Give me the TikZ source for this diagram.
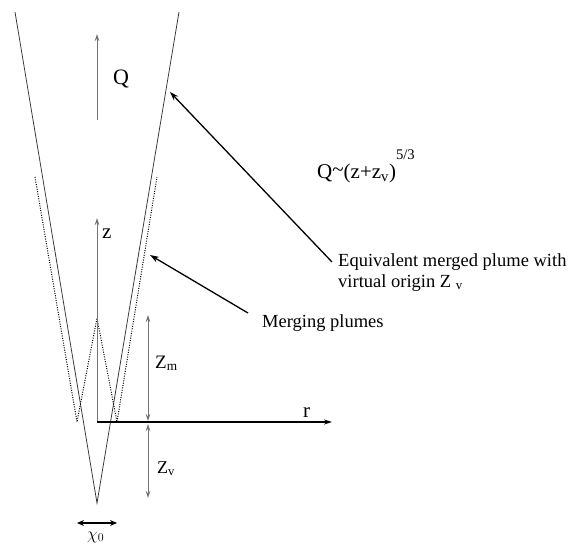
\documentclass[tikz,border=0pt]{standalone}
\usepackage{fontspec}
\setmainfont{Liberation Serif}
\usetikzlibrary{arrows.meta}
\begin{document}
\begin{tikzpicture}[x=1pt,y=-1pt,
  solidline/.style={line width=0.75pt, black!80},
  dotline/.style={line width=1pt, black, dash pattern=on 1pt off 1.4pt},
  grayline/.style={line width=0.8pt, black!55},
  blackarrow/.style={line width=1.3pt, black, -{Stealth[length=9pt,width=6pt]}},
  gtip/.style={-{Stealth[length=7pt,width=4.5pt]}},
  lbl/.style={inner sep=0pt, font=\fontsize{20}{24}\selectfont},
  txt/.style={inner sep=0pt, font=\fontsize{18.5}{20.5}\selectfont, align=left}]
\useasboundingbox (0,0) rectangle (574,546);
% main plume V
\coordinate (tl) at (15,12);
\coordinate (tr) at (179,12);
\coordinate (apex) at (97,503);
\draw[solidline] (tl) -- (apex) -- (tr);
% merging plumes (dotted)
\coordinate (lsrc) at (77,422);
\coordinate (rsrc) at (117,422);
\coordinate (ltop) at (35,177);
\coordinate (rtop) at (157,177);
\coordinate (peak) at (97,318);
\draw[dotline] (ltop) -- (lsrc) -- (peak) -- (rsrc) -- (rtop);
% axes
\coordinate (origin) at (97,422);
\coordinate (ztip) at (97,218);
\coordinate (rtip) at (332,422);
\draw[grayline, gtip] (origin) -- (ztip);
\draw[line width=1.2pt, black, -{Stealth[length=8pt,width=5pt]}] (origin) -- (rtip);
% Q arrow
\coordinate (qb) at (97,120);
\coordinate (qt) at (97,34);
\draw[grayline, gtip] (qb) -- (qt);
% z_m and z_v
\coordinate (zmtop) at (148,315);
\coordinate (zmbot) at (148,421);
\coordinate (zvtop) at (148,424);
\coordinate (zvbot) at (148,498);
\draw[grayline, {Stealth[length=7pt,width=4.5pt]}-{Stealth[length=7pt,width=4.5pt]}] (zmtop) -- (zmbot);
\draw[grayline, {Stealth[length=7pt,width=4.5pt]}-{Stealth[length=7pt,width=4.5pt]}] (zvtop) -- (zvbot);
% chi_0
\coordinate (cl) at (77,523);
\coordinate (cr) at (117,523);
\draw[line width=1.5pt, {Stealth[length=7pt,width=6pt]}-{Stealth[length=7pt,width=6pt]}] (cl) -- (cr);
% labels
\node[lbl, font=\fontsize{22}{24}\selectfont, anchor=base west] (Q) at (113,84) {Q};
\node[lbl, font=\fontsize{21}{24}\selectfont, anchor=base west] (z) at (102,238) {z};
\node[lbl, font=\fontsize{21}{24}\selectfont, anchor=base west] (r) at (303,417) {r};
\node[lbl, font=\fontsize{19}{24}\selectfont, anchor=base west] (zm) at (155,368) {Z\textsubscript{m}};
\node[lbl, font=\fontsize{18}{24}\selectfont, anchor=base west] (zv) at (157,473) {Z\textsubscript{v}};
\node[lbl, font=\fontsize{18}{24}\selectfont, anchor=base west] (chi) at (87,539) {$\chi_0$};
\node[lbl, font=\fontsize{21}{24}\selectfont, anchor=base west] (law) at (317,178)
  {Q\raisebox{0.15ex}{\textasciitilde}(z+z\textsubscript{v})\raisebox{1.1ex}{\textsuperscript{5/3}}};
\node[txt, anchor=base west] (eq) at (338,287) {Equivalent merged plume with\\virtual origin Z \textsubscript{v}};
\node[txt, anchor=base west] (mp) at (262,327) {Merging plumes};
% pointer arrows
\coordinate (eqtail) at (332,262);
\coordinate (eqhead) at (170,92);
\coordinate (mptail) at (248,313);
\coordinate (mphead) at (150,255);
\draw[blackarrow] (eqtail) -- (eqhead);
\draw[blackarrow] (mptail) -- (mphead);
\end{tikzpicture}
\end{document}
